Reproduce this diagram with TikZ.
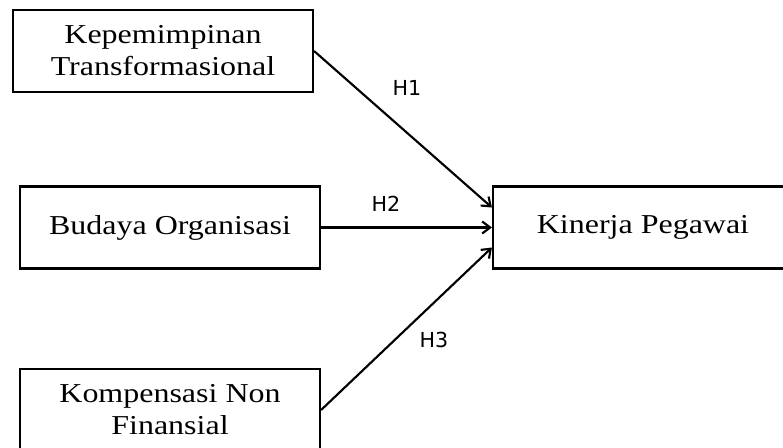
\documentclass[tikz,border=0pt]{standalone}
\usepackage{fontspec}
\setmainfont{Liberation Serif}
\newfontfamily\boxfont[FakeStretch=1.17]{Liberation Serif}
\newfontfamily\hypfont{DejaVu Sans}
\usetikzlibrary{arrows.meta}

\tikzset{every picture/.style={line width=1.6pt}}
\tikzset{
  varbox/.style={draw, rectangle, align=center, minimum width=225pt, minimum height=61.5pt,
    inner sep=0pt, font=\boxfont\fontsize{20.5}{24}\selectfont},
  hyplabel/.style={font=\hypfont\fontsize{15.5}{18}\selectfont, inner sep=0pt},
  path/.style={-{Straight Barb[length=6pt,width=9pt]}}
}

\begin{document}
\begin{tikzpicture}[x=0.75pt,y=0.75pt,yscale=-1,xscale=1]
\useasboundingbox (0,0) rectangle (783,447);
\clip (0,0) rectangle (783,447);

% Variables
\node [varbox] (kt) at (163,51) {Kepemimpinan\\Transformasional};
\node [varbox] (bo) at (170,227.5) {Budaya Organisasi};
\node [varbox] (kn) at (170,410) {Kompensasi Non\\Finansial};
\node [varbox] (kp) at (643,227.5) {Kinerja Pegawai};

% Hypotheses
\draw [path] (kt.east) -- ([yshift=-15pt]kp.west);
\draw [path] (bo.east) -- (kp.west);
\draw [path] (kn.east) -- ([yshift=15pt]kp.west);

% Text Node
\node [hyplabel] (h1) at (407,88) {H1};
\node [hyplabel] (h2) at (386,204) {H2};
\node [hyplabel] (h3) at (434,340) {H3};

\end{tikzpicture}
\end{document}
